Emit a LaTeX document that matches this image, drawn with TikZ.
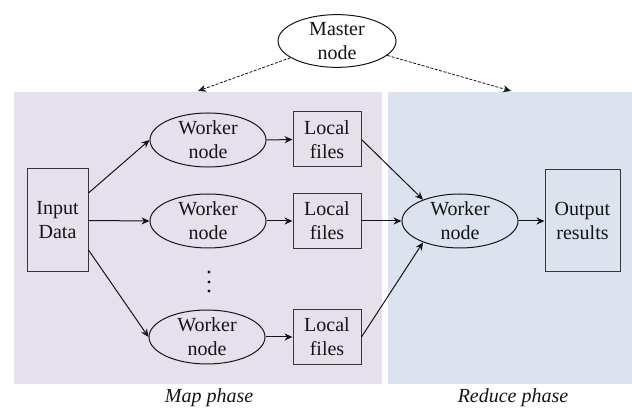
\documentclass[tikz,border=0pt]{standalone}
\usepackage{fontspec}
\setmainfont{Liberation Serif}
\usetikzlibrary{shapes.geometric,arrows.meta}
\definecolor{mapbg}{RGB}{230,224,237}
\definecolor{reducebg}{RGB}{220,226,238}
\definecolor{ink}{RGB}{20,20,20}
\begin{document}
\begin{tikzpicture}[x=1pt,y=-1pt,
  font=\fontsize{20}{24}\selectfont,
  every node/.style={text=ink, align=center, inner sep=0pt},
  worker/.style={ellipse, draw=ink, line width=1pt, minimum width=116pt, minimum height=54pt},
  filebox/.style={rectangle, draw=ink!85, line width=1pt, minimum width=68pt, minimum height=55pt},
  tallbox/.style={rectangle, draw=ink!85, line width=1pt, minimum height=103pt},
  flow/.style={draw=ink, line width=1pt, -{Stealth[length=8pt,width=7pt]}},
  ctrl/.style={draw=ink, line width=0.8pt, dash pattern=on 3pt off 1.5pt, -{Stealth[length=8pt,width=7pt]}},
  phase/.style={font=\fontsize{20}{24}\selectfont\itshape}]
  \useasboundingbox (0,0) rectangle (632,411);

  % phase backgrounds
  \fill[mapbg] (14,92) rectangle (382,384);
  \fill[reducebg] (388,92) rectangle (632,384);

  % master
  \node[worker, minimum width=118pt, minimum height=48pt] (master) at (337,41) {Master\\node};
  \coordinate (mapTop) at (198,91);
  \coordinate (redTop) at (511,91);

  % map side
  \node[tallbox, minimum width=61pt] (in) at (57.5,220.5) {Input\\Data};
  \node[worker] (w1) at (208,140) {Worker\\node};
  \node[worker] (w2) at (208,221) {Worker\\node};
  \node[worker] (w3) at (207,337) {Worker\\node};
  \node[filebox] (f1) at (327,139.5) {Local\\files};
  \node[filebox] (f2) at (327,221) {Local\\files};
  \node[filebox] (f3) at (327,337) {Local\\files};
  \foreach \yy in {272,282,291} \fill[ink] (209,\yy) circle (1.7pt);

  % reduce side
  \node[worker] (rw) at (460,221) {Worker\\node};
  \node[tallbox, minimum width=75pt, minimum height=102pt] (out) at (582.5,221) {Output\\results};

  % phase labels
  \node[phase] (mapl) at (209,398) {Map phase};
  \node[phase] (redl) at (513,398) {Reduce phase};

  % control arrows
  \draw[ctrl] (master) -- (mapTop);
  \draw[ctrl] (master) -- (redTop);

  % data flow
  \draw[flow] ([yshift=27.5pt]in.east) -- (w1.west);
  \draw[flow] (in.east) -- (w2.west);
  \draw[flow] ([yshift=-29.5pt]in.east) -- (w3.west);
  \draw[flow] (w1.east) -- (f1.west);
  \draw[flow] (w2.east) -- (f2.west);
  \draw[flow] (w3.east) -- (f3.west);
  \draw[flow] (f1.east) -- (rw.150);
  \draw[flow] (f2.east) -- (rw.west);
  \draw[flow] (f3.east) -- (rw.210);
  \draw[flow] (rw.east) -- (out.west);
\end{tikzpicture}
\end{document}
